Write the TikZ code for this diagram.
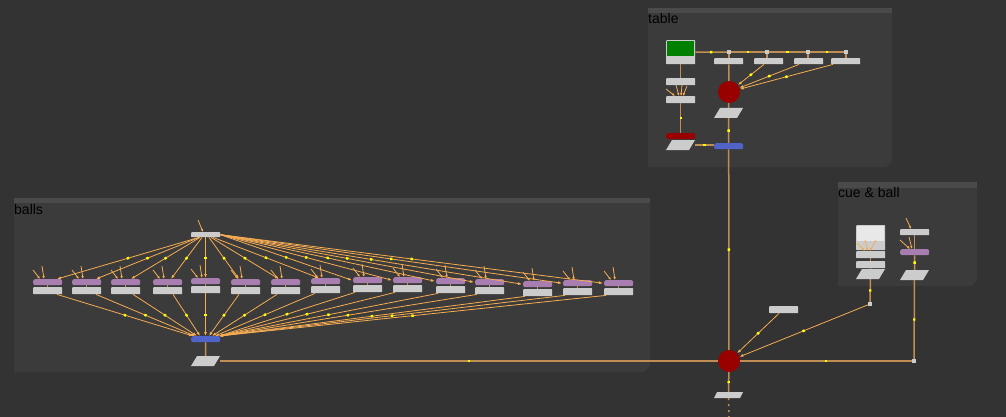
\documentclass[tikz,border=0pt]{standalone}
\usepackage{fontspec}
\setmainfont{Liberation Sans}
\usetikzlibrary{arrows.meta,decorations.markings}

\definecolor{bgc}{RGB}{51,51,51}
\definecolor{bdfill}{RGB}{59,59,59}
\definecolor{bdhead}{RGB}{74,74,74}
\definecolor{ngray}{RGB}{204,204,204}
\definecolor{nlight}{RGB}{232,232,232}
\definecolor{npurple}{RGB}{168,125,175}
\definecolor{nblue}{RGB}{80,100,200}
\definecolor{nred}{RGB}{153,0,0}
\definecolor{ngreen}{RGB}{0,128,0}
\definecolor{wirec}{RGB}{245,172,82}
\definecolor{pipec}{RGB}{192,142,82}
\definecolor{ydot}{RGB}{255,255,0}

\begin{document}
\begin{tikzpicture}[x=1pt,y=-1pt,
blabel/.style={
font=\fontsize{14}{16}\selectfont,
text=black,
anchor=base west,
inner sep=0,
},
nd/.style={%
anchor=north west,
inner sep=0,
minimum width=29pt,
},
gnode/.style={%
nd,
fill=ngray,
minimum height=7pt,
rounded corners=0.6pt,
},
pnode/.style={%
nd,
fill=npurple,
minimum height=6pt,
rounded corners=2pt,
},
bnode/.style={%
nd,
fill=nblue,
minimum height=6pt,
rounded corners=2pt,
},
rbar/.style={%
nd,
fill=nred,
minimum height=6pt,
rounded corners=2pt,
},
wnode/.style={%
inner sep=0,
minimum width=29pt,
minimum height=10pt,
path picture={
\fill[ngray]([xshift=#1]path picture bounding box.north west)
--(path picture bounding box.north east)
--([xshift=-#1]path picture bounding box.south east)
--(path picture bounding box.south west)--cycle;
},
},
wnode/.default=6pt,
merge/.style={%
circle,
fill=nred,
inner sep=0,
minimum size=22pt,
},
dotn/.style={%
fill=ngray,
inner sep=0,
minimum size=4pt,
},
pipe/.style={draw=pipec,line width=1.5pt},
wire/.style={draw=wirec,line width=0.8pt,-{Latex[length=4pt,width=3pt]}},
stub/.style={draw=wirec,line width=0.8pt,-{Latex[length=3pt,width=2.5pt]}},
ymid/.style={postaction={decorate,decoration={markings,
mark=at position 0.5 with {\fill[ydot](-1.2pt,-1.2pt)rectangle(1.2pt,1.2pt);}}}}
]

\useasboundingbox(0,0)rectangle(1006,417);
\fill[bgc](0,0)rectangle(1006,417);

%backdrops
\fill[bdfill](648,8)--(892,8)--(892,161)--(886,167)--(648,167)--cycle;
\fill[bdhead](648,8)rectangle(892,13);
\node[blabel](tablelbl)at(648,24){table};

\fill[bdfill](14,198)--(650,198)--(650,366)--(644,372)--(14,372)--cycle;
\fill[bdhead](14,198)rectangle(650,203);
\node[blabel](ballslbl)at(14,214){balls};

\fill[bdfill](838,182)--(977,182)--(977,280)--(971,286)--(838,286)--cycle;
\fill[bdhead](838,182)rectangle(977,188);
\node[blabel](cuelbl)at(838,197){cue \& ball};

%table
\node[gnode,minimum height=24pt](grade)at(666,40){};
\fill[ngreen]([shift={(1,1)}]grade.north west)rectangle([shift={(-1,16)}]grade.north east);
\node[dotn](d1)at(729,52){};
\node[dotn](d2)at(767,52){};
\node[dotn](d3)at(808,52){};
\node[dotn](d4)at(846,52){};
\draw[pipe,ymid](grade.east)--(d1);
\draw[pipe,ymid](d1)--(d2);
\draw[pipe,ymid](d2)--(d3);
\draw[pipe,ymid](d3)--(d4);
\node[gnode,minimum height=6pt](t1)at(714,58){};
\node[gnode,minimum height=6pt](t2)at(754,58){};
\node[gnode,minimum height=6pt](t3)at(794,58){};
\node[gnode,minimum height=6pt](t4)at(831,58){};
\draw[pipe](d1)--(d1|-t1.north);
\draw[pipe](d2)--(d2|-t2.north);
\draw[pipe](d3)--(d3|-t3.north);
\draw[pipe](d4)--(d4|-t4.north);
\node[merge](m1)at(729,92){};
\draw[pipe](t1)--(m1);
\draw[wire,ymid]([xshift=10pt]t2.south west)--(m1);
\draw[wire,ymid]([xshift=5pt]t3.south west)--(m1);
\draw[wire,ymid]([xshift=2pt]t4.south west)--(m1);
\node[wnode](w1)at(728.5,113){};
\draw[pipe](m1)--(w1);
\node[bnode](k1)at(714,143){};
\draw[pipe,ymid](w1)--(k1);

\node[gnode](g1)at(666,78){};
\node[gnode](g2)at(666,96){};
\draw[pipe](grade)--(g1);
\draw[stub]([shift={(0,-7)}]g2.north west)--([xshift=9pt]g2.north west);
\draw[stub]([shift={(10,-11)}]g2.north west)--([xshift=13pt]g2.north west);
\draw[stub]([shift={(16,-11)}]g2.north west)--([xshift=15pt]g2.north west);
\draw[stub]([shift={(21,-10)}]g2.north west)--([xshift=17pt]g2.north west);
\node[rbar](rb)at(666,133){};
\draw[pipe,ymid](g2)--(rb);
\node[wnode](w2)at(680.5,145){};
\draw[pipe,ymid](w2.east)--(w2.east-|k1.west);

%cue & ball
\node[gnode,minimum height=25pt](cw)at(856,225){};
\fill[nlight]([shift={(1,1)}]cw.north west)rectangle([shift={(-1,16)}]cw.north east);
\node[gnode](c1)at(856,251){};
\draw[stub]([shift={(1,-8)}]c1.north west)--([xshift=9pt]c1.north west);
\draw[stub]([shift={(9,-11)}]c1.north west)--([xshift=12pt]c1.north west);
\draw[stub]([shift={(20,-11)}]c1.north west)--([xshift=14pt]c1.north west);
\node[gnode](c2)at(856,261){};
\draw[pipe](c1)--(c2);
\node[wnode](w3)at(870.5,274){};
\draw[pipe](c2)--(w3);
\node[dotn](q1)at(870,304){};
\draw[pipe,ymid](w3)--(q1);

\node[gnode,minimum height=6pt](c3)at(900,229){};
\draw[stub]([shift={(6,-11)}]c3.north west)--([xshift=11pt]c3.north west);
\node[pnode](c4)at(900,249){};
\draw[pipe](c3)--(c4);
\draw[stub]([shift={(0,-9)}]c4.north west)--([xshift=10pt]c4.north west);
\draw[stub]([shift={(9,-12)}]c4.north west)--([xshift=12pt]c4.north west);
\node[wnode](w4)at(914.5,275){};
\draw[pipe,ymid](c4)--(w4);
\node[dotn](q2)at(914,361){};
\draw[pipe,ymid](w4)--(q2);

%main merge
\node[merge](m2)at(729,361){};
\node[gnode](gx)at(769,306){};
\draw[pipe,ymid](k1)--(m2);
\draw[wire,ymid]([xshift=10pt]gx.south west)--(m2);
\draw[wire,ymid](q1)--(m2);
\draw[pipe,ymid](q2)--(q2-|m2.east);
\node[wnode=3pt,minimum height=6pt](w6)at(728.5,395){};
\draw[pipe,ymid](m2)--(w6);
\coordinate(vend)at(729,417);
\draw[pipec,line width=1.5pt,dash pattern=on 2pt off 4pt](w6)--(vend);

%balls
\node[gnode,minimum height=5pt](bt)at(191,232){};
\draw[stub]([shift={(7,-12)}]bt.north west)--([xshift=12pt]bt.north west);
\node[bnode](bk)at(191,336){};
\node[wnode](w5)at(205.5,361){};
\draw[pipe](bk)--(w5);
\draw[pipe,ymid](w5.east)--(m2.west);

\foreach \i/\x/\y/\sa/\ss/\ta/\tx/\rs/\kx in {
1/33/279/south west/8/north west/24/24/2,
2/72/279/south west/8/north west/24/24/4,
3/111/279/south west/9/north west/20/22/6,
4/153/279/south west/11/north west/18/20/9,
5/191/278/south west/14.5/north west/14.5/14.5/14.5,
6/231/279/south west/18/north west/8/8/18,
7/271/279/south west/20/north west/8/6/21,
8/311/278/south west/22/north west/8/4/24,
9/353/277/east/0/west/-1/2/28,
10/393/277/east/0/west/-1/2/28,
11/436/278/east/0/west/-1/2/28,
12/475/279/east/0/west/-1/2/28,
13/523/281/east/0/west/-1/2/28,
14/563/280/east/0/west/-1/2/28,
15/604/280/east/0/west/-1/2/28}{
\node[pnode](b\i)at(\x,\y){};
\node[gnode](r\i)at(\x,\y+8){};
\draw[pipe](b\i)--(r\i);
\draw[stub]([shift={(0,-9)}]b\i.north west)--([xshift=7pt]b\i.north west);
\draw[stub]([shift={(9,-13)}]b\i.north west)--([xshift=11pt]b\i.north west);
\draw[wire,ymid]([xshift=\ss pt]bt.\sa)--([xshift=\tx pt]b\i.\ta);
\draw[wire,ymid]([xshift=\rs pt]r\i.south west)--([xshift=\kx pt]bk.north west);
}

\end{tikzpicture}
\end{document}
